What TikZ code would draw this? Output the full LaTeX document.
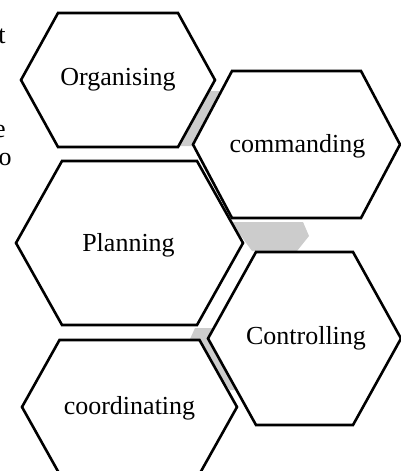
\documentclass[tikz,border=0pt]{standalone}
\usepackage{fontspec}
\setmainfont{Liberation Serif}
\begin{document}
\begin{tikzpicture}[x=0.5pt,y=-0.5pt,
  hexline/.style={draw=black,line width=1.3pt,fill=white,line join=miter},
  joiner/.style={fill=gray!40!white,draw=none},
  lbl/.style={inner sep=0pt,font=\fontsize{13}{15}\selectfont},
  frag/.style={inner sep=0pt,font=\fontsize{13}{15}\selectfont,anchor=base east}]
\useasboundingbox (0,0) rectangle (401,471);
% grey joining pieces (behind the hexagons)
\fill[joiner] (205,91) -- (240,91) -- (240,146) -- (176,146) -- cycle;
\fill[joiner] (228,222) -- (303,222) -- (309,236) -- (297,251) -- (252,251) -- (241,236) -- cycle;
\fill[joiner] (195,328) -- (213,328) -- (245,390) -- (230,390) -- (190,339) -- cycle;
% hexagons: centre x, centre y, half width, half top, half height
\newcommand\hexshape[5]{%
  \path[hexline] ({#1-#3},#2) -- ({#1-#4},{#2-#5}) -- ({#1+#4},{#2-#5}) --
    ({#1+#3},#2) -- ({#1+#4},{#2+#5}) -- ({#1-#4},{#2+#5}) -- cycle;}
\hexshape{118}{80}{97}{60}{67}
\hexshape{296.5}{144.5}{103.5}{64.5}{73.5}
\hexshape{129.5}{243}{113.5}{67.5}{82}
\hexshape{304.5}{338.5}{96.5}{48.5}{86.5}
\hexshape{129.5}{407}{107.5}{70}{67}
% labels
\node[lbl] (org) at (118,80) {Organising};
\node[lbl] (com) at (297.5,146) {commanding};
\node[lbl] (pla) at (128.5,245) {Planning};
\node[lbl] (con) at (306,338) {Controlling};
\node[lbl] (coo) at (129.5,408) {coordinating};
% fragments of text at the left edge
\node[frag] (ft) at (6,43) {t};
\node[frag] (fe) at (6,137) {e};
\node[frag] (fo) at (12,165) {o};
\end{tikzpicture}
\end{document}
